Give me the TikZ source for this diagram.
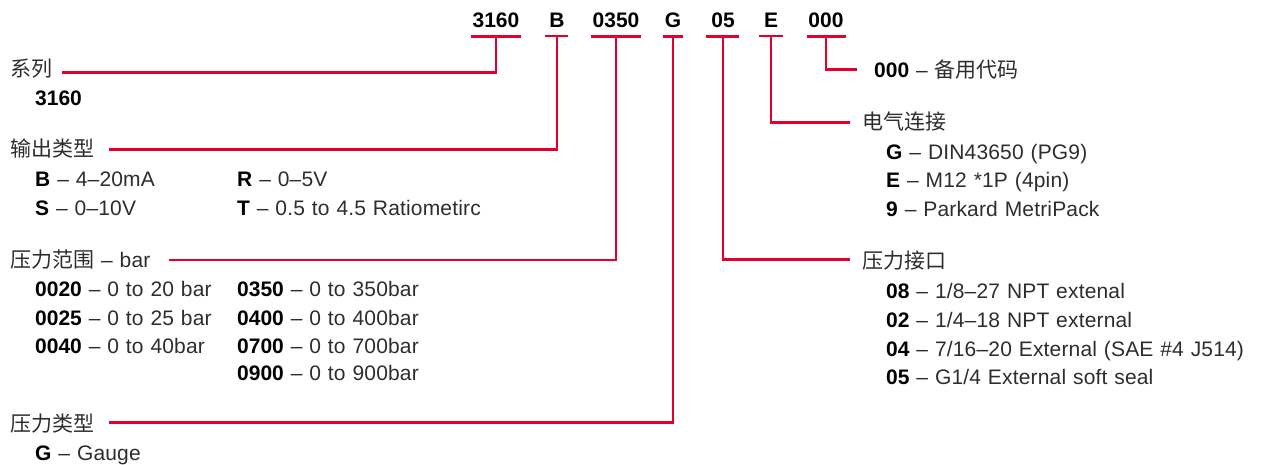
\documentclass[tikz,border=0pt]{standalone}
\usepackage{fontspec}
\setmainfont[WordSpace=1.15, LetterSpace=0.8, BoldFeatures={LetterSpace=0}]{Liberation Sans}
\newfontfamily\cjk{Noto Sans CJK SC}
\definecolor{codered}{RGB}{228,0,43}
\definecolor{txt}{RGB}{45,45,45}
\newcommand\bk[1]{\textcolor{black}{\bfseries #1}}
\begin{document}
\begin{tikzpicture}[x=1pt,y=-1pt,
  lbl/.style={anchor=base west, inner sep=0pt, text=txt, font=\fontsize{21}{25}\selectfont},
  code/.style={anchor=base, inner sep=0pt, text=black, font=\fontsize{21}{25}\selectfont\bfseries},
  wire/.style={draw=codered, line width=2.6pt},
]
\useasboundingbox (0,0) rectangle (1261,465);

% code letters
\node[code] (c1) at (496,28) {3160};
\node[code] (c2) at (557,28) {B};
\node[code] (c3) at (616,28) {0350};
\node[code] (c4) at (673,28) {G};
\node[code] (c5) at (723,28) {05};
\node[code] (c6) at (771,28) {E};
\node[code] (c7) at (826,28) {000};

% underlines
\draw[wire] ([yshift=-8pt,xshift=-1pt]c1.south west) -- ([yshift=-8pt,xshift=1pt]c1.south east);
\draw[wire] ([yshift=-8pt,xshift=-4pt]c2.south west) -- ([yshift=-8pt,xshift=3pt]c2.south east);
\draw[wire] ([yshift=-8pt,xshift=-1pt]c3.south west) -- ([yshift=-8pt,xshift=1pt]c3.south east);
\draw[wire] ([yshift=-8pt,xshift=-2pt]c4.south west) -- ([yshift=-8pt,xshift=2pt]c4.south east);
\draw[wire] ([yshift=-8pt,xshift=-5pt]c5.south west) -- ([yshift=-8pt,xshift=4pt]c5.south east);
\draw[wire] ([yshift=-8pt,xshift=-5pt]c6.south west) -- ([yshift=-8pt,xshift=5pt]c6.south east);
\draw[wire] ([yshift=-8pt,xshift=-1pt]c7.south west) -- ([yshift=-8pt,xshift=2pt]c7.south east);

% left labels
\node[lbl] (l1) at (10,77) {\cjk 系列};
\node[lbl] (v1) at (35,106) {\bk{3160}};

\node[lbl] (l2) at (10,156.5) {\cjk 输出类型};
\node[lbl] (v2a) at (35,187) {\bk{B} – 4–20mA};
\node[lbl] (v2b) at (237,187) {\bk{R} – 0–5V};
\node[lbl] (v2c) at (35,216) {\bk{S} – 0–10V};
\node[lbl] (v2d) at (237,216) {\bk{T} – 0.5 to 4.5 Ratiometirc};

\node[lbl] (l3) at (10,267) {{\cjk 压力范围} – bar};
\node[lbl] (v3a) at (35,296) {\bk{0020} – 0 to 20 bar};
\node[lbl] (v3b) at (35,325) {\bk{0025} – 0 to 25 bar};
\node[lbl] (v3c) at (35,353) {\bk{0040} – 0 to 40bar};
\node[lbl] (v3d) at (237,296) {\bk{0350} – 0 to 350bar};
\node[lbl] (v3e) at (237,325) {\bk{0400} – 0 to 400bar};
\node[lbl] (v3f) at (237,353) {\bk{0700} – 0 to 700bar};
\node[lbl] (v3g) at (237,380) {\bk{0900} – 0 to 900bar};

\node[lbl] (l4) at (10,431.5) {\cjk 压力类型};
\node[lbl] (v4) at (35,460) {\bk{G} – Gauge};

% right labels
\node[lbl] (l7) at (874,78) {\bk{000} – {\cjk 备用代码}};

\node[lbl] (l6) at (862,130) {\cjk 电气连接};
\node[lbl] (v6a) at (886,160) {\bk{G} – DIN43650 (PG9)};
\node[lbl] (v6b) at (886,188) {\bk{E} – M12 *1P (4pin)};
\node[lbl] (v6c) at (886,217) {\bk{9} – Parkard MetriPack};

\node[lbl] (l5) at (862,268.5) {\cjk 压力接口};
\node[lbl] (v5a) at (886,298) {\bk{08} – 1/8–27 NPT extenal};
\node[lbl] (v5b) at (886,327) {\bk{02} – 1/4–18 NPT external};
\node[lbl] (v5c) at (886,356) {\bk{04} – 7/16–20 External (SAE \#4 J514)};
\node[lbl] (v5d) at (886,384) {\bk{05} – G1/4 External soft seal};

% connector ends
\coordinate (e1) at (62,72.5);
\coordinate (e2) at (109,149.5);
\coordinate (e3) at (169,260);
\coordinate (e4) at (109,422.5);
\coordinate (e5) at (850,259.5);
\coordinate (e6) at (850,122.7);
\coordinate (e7) at (857,69.5);

% connectors
\draw[wire] ([yshift=-8pt]c1.south) |- (e1);
\draw[wire] ([yshift=-8pt]c2.south) |- (e2);
\draw[wire] ([yshift=-8pt]c3.south) |- (e3);
\draw[wire] ([yshift=-8pt]c4.south) |- (e4);
\draw[wire] ([yshift=-8pt]c5.south) |- (e5);
\draw[wire] ([yshift=-8pt]c6.south) |- (e6);
\draw[wire] ([yshift=-8pt]c7.south) |- (e7);
\end{tikzpicture}
\end{document}
